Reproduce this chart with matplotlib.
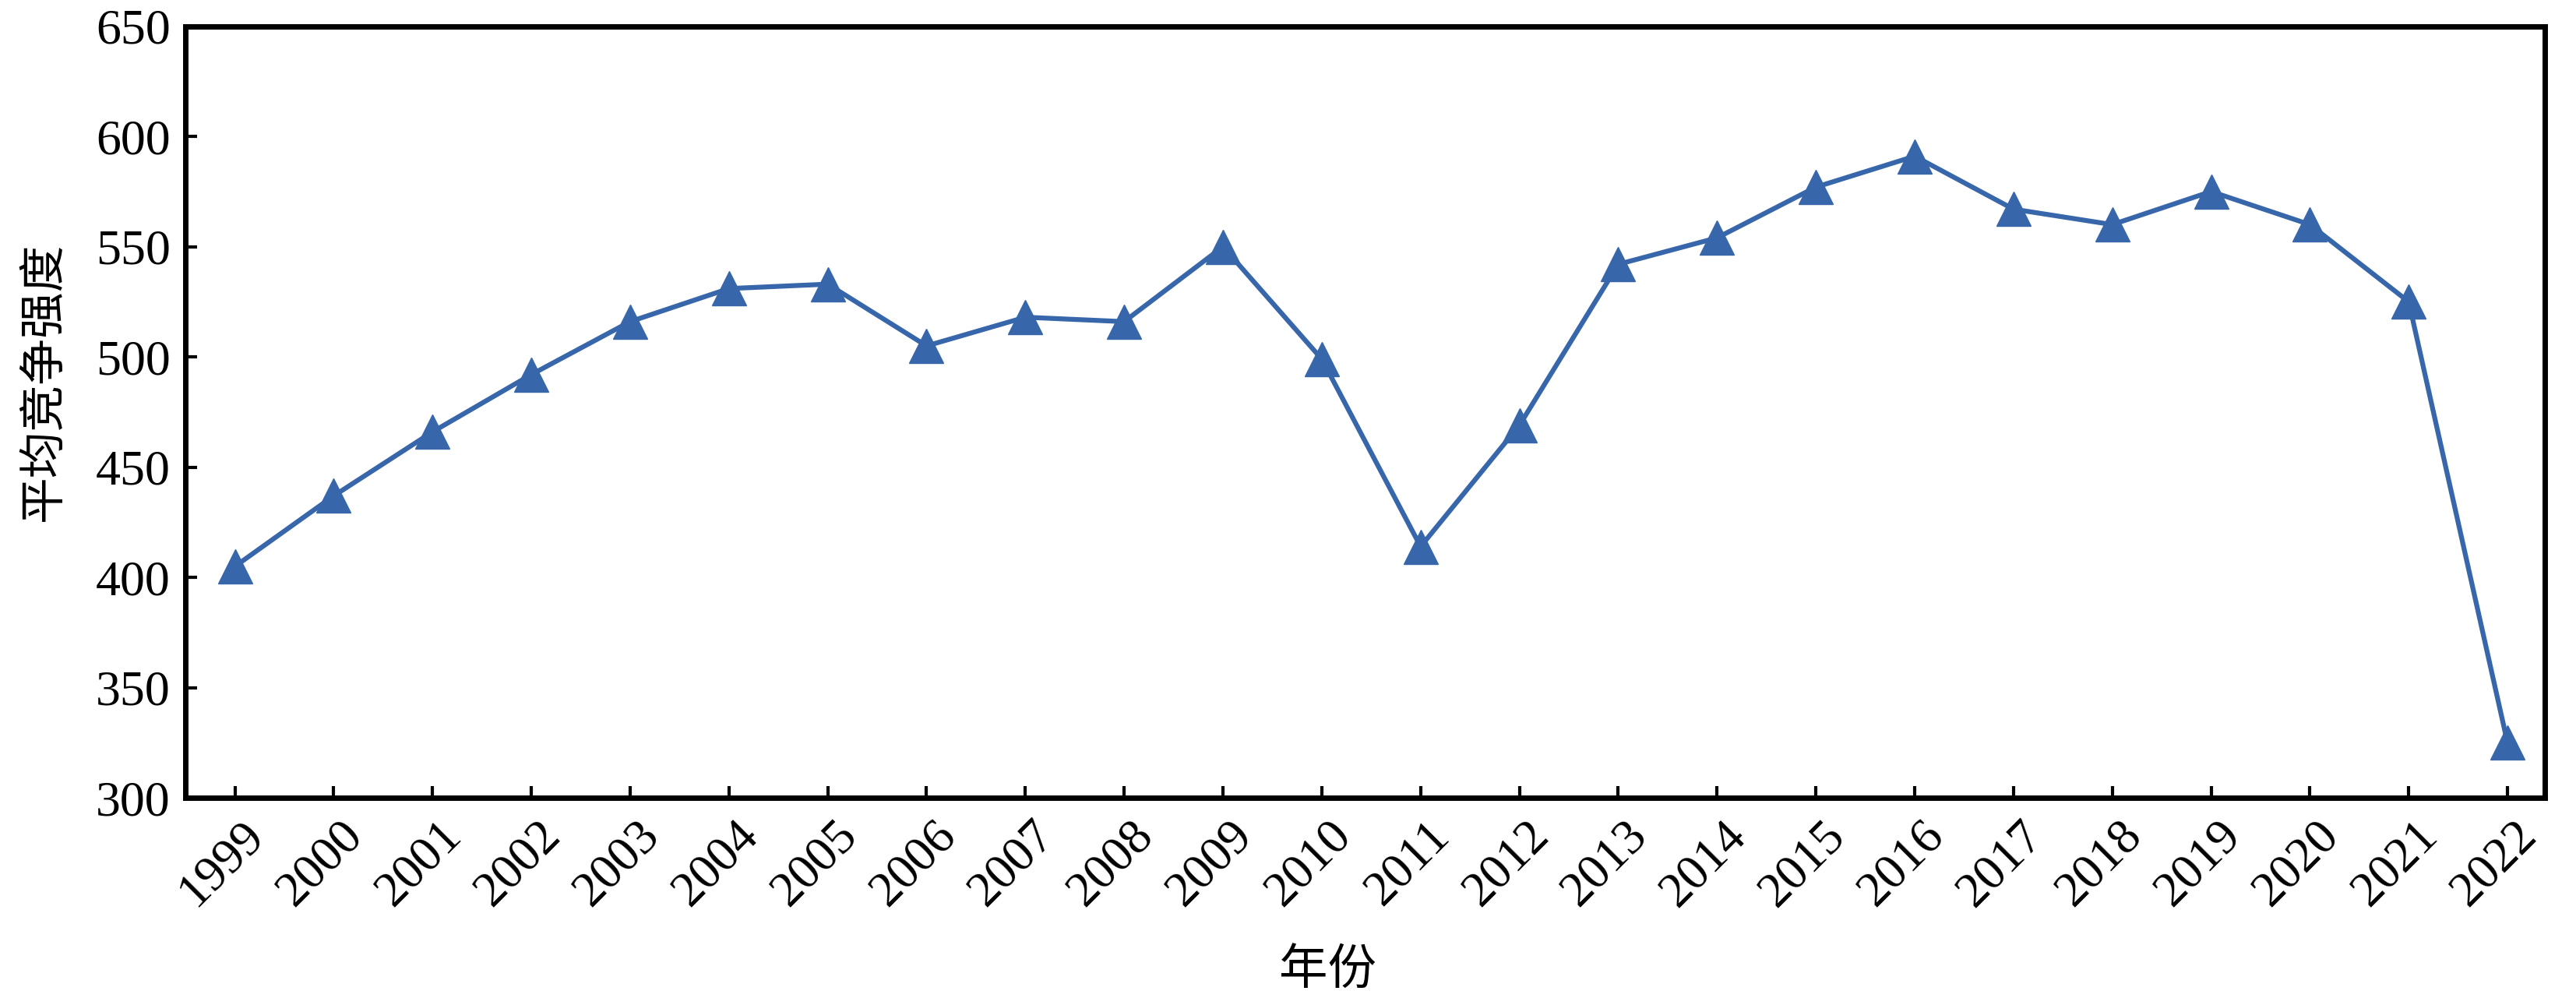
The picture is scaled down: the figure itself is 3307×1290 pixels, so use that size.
import matplotlib
matplotlib.use("Agg")
import matplotlib.pyplot as plt
import matplotlib.transforms as mtransforms

# Data
years = ['1999', '2000', '2001', '2002', '2003', '2004', '2005', '2006',
         '2007', '2008', '2009', '2010', '2011', '2012', '2013', '2014',
         '2015', '2016', '2017', '2018', '2019', '2020', '2021', '2022']
intensity = [405, 437, 466, 492, 516, 531, 533, 505,
             518, 516, 550, 499, 414, 469, 542, 554,
             577, 591, 567, 560, 575, 560, 525, 325]
y_ticks = [300, 350, 400, 450, 500, 550, 600, 650]

plt.rcParams['font.family'] = ['Liberation Serif', 'Noto Sans CJK SC']

fig = plt.figure(figsize=(33.07, 12.90), dpi=100)
ax = fig.add_axes([0.072, 0.206, 0.916, 0.768])

x = list(range(len(years)))
ax.plot(x, intensity, color='#3767AA', linewidth=4.5, marker='^',
        markersize=31, markerfacecolor='#3767AA', markeredgecolor='#3767AA')

ax.set_xlim(-0.5, len(years) - 1 + 0.38)
ax.set_ylim(300, 650)
ax.set_yticks(y_ticks)
ax.set_xticks(x)
ax.set_xticklabels(years, rotation=45, ha='right', rotation_mode='anchor')

ax.tick_params(axis='both', direction='in', length=11, width=3,
               labelsize=46, top=False, right=False, pad=14)

# nudge the rotated year labels a little to the right
shift = mtransforms.ScaledTranslation(8 / 100, 0, fig.dpi_scale_trans)
for lab in ax.get_xticklabels():
    lab.set_transform(lab.get_transform() + shift)

for sp in ax.spines.values():
    sp.set_linewidth(5)

ax.set_xlabel('年份', fontsize=45, family=['Noto Sans CJK SC'])
ax.set_ylabel('平均竞争强度', fontsize=43, family=['Noto Sans CJK SC'])
ax.xaxis.set_label_coords(0.484, -0.19)
ax.yaxis.set_label_coords(-0.05, 0.54)

fig.savefig('out.png', dpi=100)
